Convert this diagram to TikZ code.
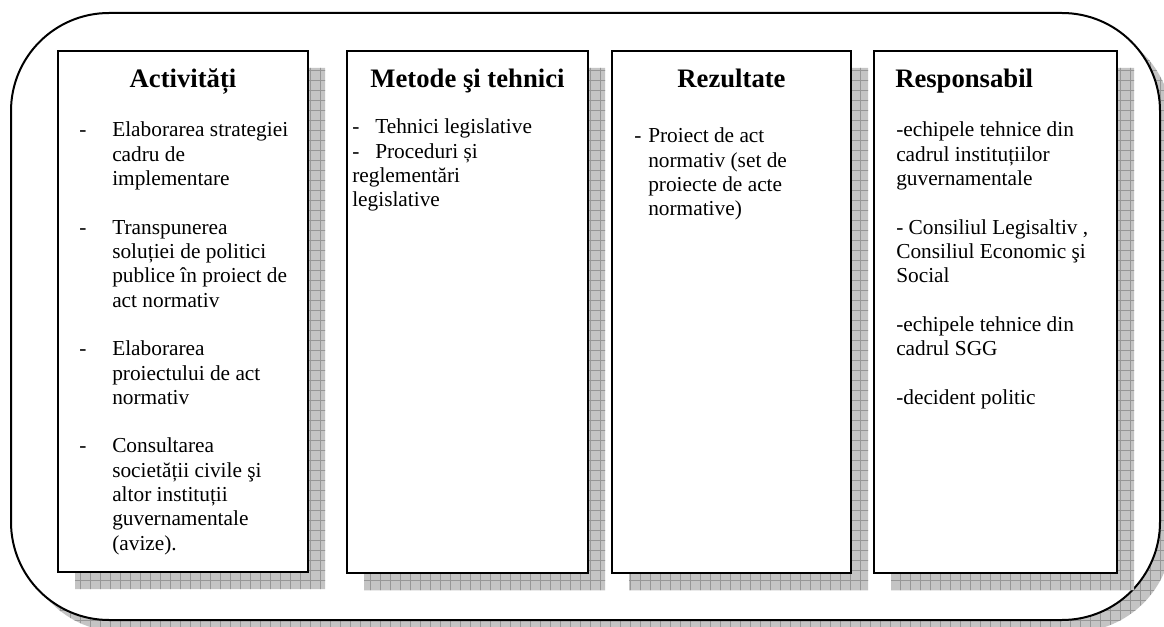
\documentclass[tikz,border=0pt]{standalone}
\usepackage{fontspec}
\setmainfont{Liberation Serif}
\definecolor{shadowgray}{RGB}{196,196,196}
\definecolor{gridgray}{RGB}{150,150,150}
\tikzset{
  outerframe/.style={draw=black, line width=1.5pt, fill=white, rounded corners=73.5pt},
  card/.style={draw=black, line width=1.4pt, fill=white},
  gridline/.style={draw=gridgray, line width=0.6pt},
  coltitle/.style={font=\fontsize{20}{24}\selectfont\bfseries, inner sep=0pt},
  txt/.style={font=\fontsize{16}{18.2}\selectfont, inner sep=0pt, anchor=base west},
}
\newcommand{\myshadowgrid}{%
  \fill[shadowgray] (0,0) rectangle (1180,640);
  \foreach \gx in {0,10,...,1170} {\draw[gridline] (\gx,0) -- (\gx,640);}
  \foreach \gy in {0,10,...,640} {\draw[gridline] (0,\gy) -- (1180,\gy);}
}
\begin{document}
\begin{tikzpicture}[x=0.75pt,y=-0.75pt]
\useasboundingbox (0,0) rectangle (1164,627);
% outer shadow
\begin{scope}
  \clip[rounded corners=73.5pt] (23,25) rectangle (1172,632);
  \myshadowgrid
\end{scope}
% outer frame
\draw[outerframe] (11,13) rectangle (1160,620);
% card shadows
\begin{scope}
  \clip (75,68) rectangle (325,589) (364,68) rectangle (605,590)
        (629,68) rectangle (868,590) (891,68) rectangle (1134,590);
  \myshadowgrid
\end{scope}
% cards
\draw[card] (58,51) rectangle (308,572);
\draw[card] (347,51) rectangle (588,573);
\draw[card] (612,51) rectangle (851,573);
\draw[card] (874,51) rectangle (1117,573);

% titles
\node[coltitle, anchor=base] (t1) at (183,88) {Activități};
\node[coltitle, anchor=base] (t2) at (467.5,88) {Metode şi tehnici};
\node[coltitle, anchor=base] (t3) at (731.5,88) {Rezultate};
\node[coltitle, anchor=base west] (t4) at (895,88) {Responsabil};

% column 1
\node[txt] (d1) at (79,137) {-};
\node[txt] (a1) at (112,137) {Elaborarea strategiei};
\node[txt] (a2) at (112,161.3) {cadru de};
\node[txt] (a3) at (112,185.6) {implementare};
\node[txt] (d2) at (79,234.2) {-};
\node[txt] (a4) at (112,234.2) {Transpunerea};
\node[txt] (a5) at (112,258.5) {soluției de politici};
\node[txt] (a6) at (112,282.8) {publice în proiect de};
\node[txt] (a7) at (112,307.1) {act normativ};
\node[txt] (d3) at (79,355.7) {-};
\node[txt] (a8) at (112,355.7) {Elaborarea};
\node[txt] (a9) at (112,380) {proiectului de act};
\node[txt] (a10) at (112,404.3) {normativ};
\node[txt] (d4) at (79,452.9) {-};
\node[txt] (a11) at (112,452.9) {Consultarea};
\node[txt] (a12) at (112,477.2) {societății civile şi};
\node[txt] (a13) at (112,501.5) {altor instituții};
\node[txt] (a14) at (112,525.8) {guvernamentale};
\node[txt] (a15) at (112,550.1) {(avize).};

% column 2
\node[txt] (d5) at (352,134) {-};
\node[txt] (b1) at (375,134) {Tehnici legislative};
\node[txt] (d6) at (352,158.3) {-};
\node[txt] (b2) at (375,158.3) {Proceduri și};
\node[txt] (b3) at (352,182.6) {reglementări};
\node[txt] (b4) at (352,206.9) {legislative};

% column 3
\node[txt] (d7) at (634,143) {-};
\node[txt] (c1) at (648,143) {Proiect de act};
\node[txt] (c2) at (648,167.3) {normativ (set de};
\node[txt] (c3) at (648,191.6) {proiecte de acte};
\node[txt] (c4) at (648,215.9) {normative)};

% column 4
\node[txt] (r1) at (896,137) {-echipele tehnice din};
\node[txt] (r2) at (896,161.3) {cadrul instituțiilor};
\node[txt] (r3) at (896,185.6) {guvernamentale};
\node[txt] (r4) at (896,234.2) {- Consiliul Legisaltiv ,};
\node[txt] (r5) at (896,258.5) {Consiliul Economic şi};
\node[txt] (r6) at (896,282.8) {Social};
\node[txt] (r7) at (896,331.4) {-echipele tehnice din};
\node[txt] (r8) at (896,355.7) {cadrul SGG};
\node[txt] (r9) at (896,404.3) {-decident politic};
\end{tikzpicture}
\end{document}
